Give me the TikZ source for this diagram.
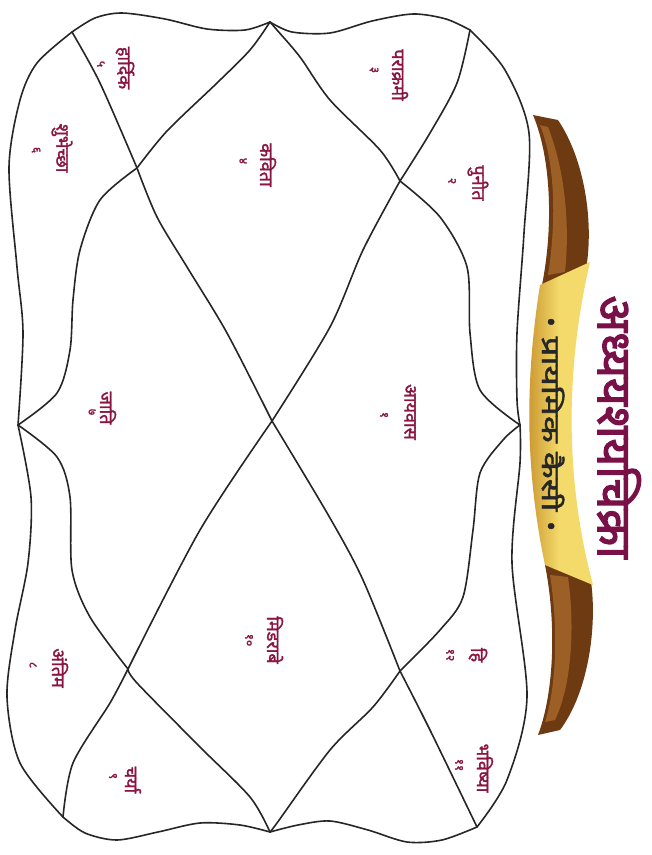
\documentclass[tikz,border=0pt]{standalone}
\usepackage{fontspec}
\newfontfamily\deva[Script=Devanagari]{Noto Sans}
\newfontfamily\devab[Script=Devanagari,FakeBold=1.6]{Noto Sans}
\newfontfamily\devabb[Script=Devanagari,FakeBold=2.5]{Noto Sans}
\definecolor{labelc}{HTML}{8A1540}
\definecolor{titlec}{HTML}{7A1048}
\definecolor{linec}{HTML}{262626}
\definecolor{goldA}{HTML}{F3DA6A}
\definecolor{goldB}{HTML}{C8922C}
\definecolor{brownA}{HTML}{6E3A12}
\definecolor{brownB}{HTML}{B07030}
\begin{document}
\begin{tikzpicture}[x=1pt,y=-1pt,
  ln/.style={draw=linec, line width=1.6pt, line join=round, line cap=round},
  lbl/.style={text=labelc, font=\devab\fontsize{18}{18}\selectfont, rotate=-90, inner sep=0pt},
  num/.style={text=labelc, font=\devab\fontsize{12}{12}\selectfont, rotate=-90, inner sep=0pt},
  ttl/.style={text=titlec, font=\devabb\fontsize{48}{48}\selectfont, rotate=-90, inner sep=0pt},
  bnr/.style={text=black!85, font=\devab\fontsize{25}{25}\selectfont, rotate=-90, inner sep=0pt}]
\useasboundingbox (0,0) rectangle (652,855);
\fill[white] (0,0) rectangle (652,855);

% key points
\coordinate (T) at (270,22);
\coordinate (B) at (270,832);
\coordinate (L) at (18,425);
\coordinate (R) at (520,425);
\coordinate (TL) at (72,32);
\coordinate (TR) at (470,30);
\coordinate (BL) at (63,817);
\coordinate (BR) at (477,827);
\coordinate (PTL) at (137,168);
\coordinate (PTR) at (400,181);
\coordinate (PBL) at (128,669);
\coordinate (PBR) at (400,671);
\coordinate (C) at (272,421);

% outer boundary
\draw[ln] plot[smooth] coordinates {(TL) (95,18) (122,13) (165,19) (207,29) (245,30) (T)};
\draw[ln] plot[smooth] coordinates {(T) (292,32) (330,33) (372,21) (413,14) (446,19) (TR)};
\draw[ln] plot[smooth] coordinates {(TR) (505,70) (529,133) (524,233) (517,333) (517,400) (R)};
\draw[ln] plot[smooth] coordinates {(R) (520,463) (512,563) (527,697) (507,780) (BR)};
\draw[ln] plot[smooth] coordinates {(BR) (442,840) (407,842) (368,830) (330,821) (298,825) (B)};
\draw[ln] plot[smooth] coordinates {(B) (240,825) (200,823) (158,832) (117,840) (85,833) (BL)};
\draw[ln] plot[smooth] coordinates {(BL) (20,763) (7,697) (15,630) (28,563) (31,497) (L)};
\draw[ln] plot[smooth] coordinates {(L) (23,333) (17,267) (9,167) (20,100) (37,63) (TL)};

% diamond
\draw[ln] plot[smooth] coordinates {(T) (250,50) (217,83) (167,131) (PTL)};
\draw[ln] plot[smooth] coordinates {(PTL) (100,200) (80,250) (73,300) (70,350) (57,393) (L)};
\draw[ln] plot[smooth] coordinates {(L) (57,457) (70,497) (72,570) (90,617) (PBL)};
\draw[ln] plot[smooth] coordinates {(PBL) (137,683) (200,747) (250,797) (B)};
\draw[ln] plot[smooth] coordinates {(B) (277,823) (330,750) (373,707) (PBR)};
\draw[ln] plot[smooth] coordinates {(PBR) (440,630) (463,597) (473,530) (480,473) (503,440) (R)};
\draw[ln] plot[smooth] coordinates {(R) (480,390) (470,333) (467,267) (440,217) (PTR)};
\draw[ln] plot[smooth] coordinates {(PTR) (380,150) (330,100) (300,57) (277,30) (T)};

% diagonals
\draw[ln] plot[smooth] coordinates {(TL) (100,83) (PTL)};
\draw[ln] plot[smooth] coordinates {(PTL) (157,217) (187,267) (227,333) (C)};
\draw[ln] plot[smooth] coordinates {(TR) (457,83) (430,133) (PTR)};
\draw[ln] plot[smooth] coordinates {(PTR) (363,250) (330,327) (C)};
\draw[ln] plot[smooth] coordinates {(C) (200,530) (PBL)};
\draw[ln] plot[smooth] coordinates {(PBL) (110,703) (73,763) (BL)};
\draw[ln] plot[smooth] coordinates {(C) (330,518) (363,580) (PBR)};
\draw[ln] plot[smooth] coordinates {(PBR) (430,730) (BR)};

% banner ribbons
\fill[brownA] (533,115) .. controls (552,160) and (553,230) .. (542,285)
  -- (585,275) .. controls (595,225) and (585,160) .. (558,120) -- cycle;
\fill[brownB!70!brownA] (540,125) .. controls (556,165) and (556,225) .. (548,275)
  -- (565,272) .. controls (570,225) and (565,170) .. (548,127) -- cycle;
\fill[brownA] (545,565) .. controls (556,620) and (555,690) .. (538,735)
  -- (560,730) .. controls (590,690) and (598,620) .. (590,575) -- cycle;
\fill[brownB!70!brownA] (550,575) .. controls (558,625) and (557,685) .. (545,722)
  -- (555,720) .. controls (572,685) and (575,625) .. (568,577) -- cycle;
\shade[left color=goldB, right color=goldA, middle color=goldA]
  (540,285) .. controls (525,380) and (525,470) .. (545,565)
  -- (593,585) .. controls (565,480) and (565,370) .. (590,262) -- cycle;

\node[bnr] (banner) at (553,424) {•\hspace{10pt}\scalebox{1.4}[1]{प्रायमिक कैसी}\hspace{10pt}•};
\node[ttl] (title) at (619,427) {अध्ययशयचिक्रा};

% house labels
\node[lbl] (h1) at (410,412) {आयवास};   \node[num] (n1) at (384,415) {१};
\node[lbl] (h2) at (478,183) {पुनीत};   \node[num] (n2) at (452,181) {२};
\node[lbl] (h3) at (400,75) {पराक्रमी};  \node[num] (n3) at (374,70) {३};
\node[lbl] (h4) at (268,165) {कविता};   \node[num] (n4) at (243,161) {४};
\node[lbl] (h5) at (125,68) {हार्दिक};  \node[num] (n5) at (101,64) {५};
\node[lbl] (h6) at (62,148) {शुभेच्छा}; \node[num] (n6) at (36,150) {६};
\node[lbl] (h7) at (108,408) {जाति};   \node[num] (n7) at (92,412) {७};
\node[lbl] (h8) at (60,668) {अंतिम};   \node[num] (n8) at (33,665) {८};
\node[lbl] (h9) at (133,780) {चर्या};   \node[num] (n9) at (113,776) {९};
\node[lbl] (h10) at (275,640) {मिडराबे}; \node[num] (n10) at (249,640) {१०};
\node[lbl] (h11) at (485,768) {भविष्या}; \node[num] (n11) at (459,765) {११};
\node[lbl] (h12) at (478,655) {हि};     \node[num] (n12) at (450,655) {१२};
\end{tikzpicture}
\end{document}
